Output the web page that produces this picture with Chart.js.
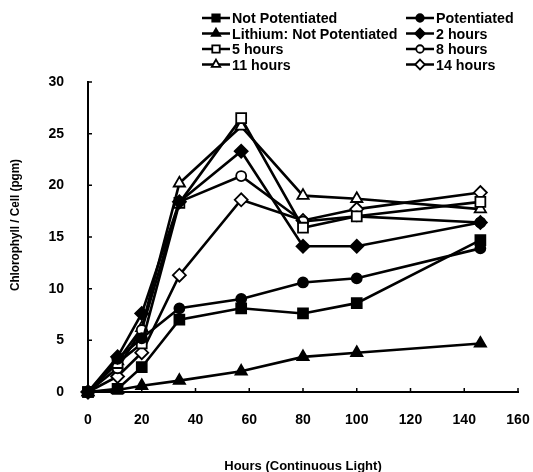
<!DOCTYPE html>
<html>
<head>
<meta charset="utf-8">
<script src="https://cdn.jsdelivr.net/npm/chart.js@4.4.1/dist/chart.umd.min.js"></script>
<style>
  html, body { margin: 0; padding: 0; background: #fff; overflow: hidden; }
  #wrap { width: 533px; height: 472px; position: relative; }
</style>
</head>
<body>
<div id="wrap"><canvas id="chart"></canvas></div>
<script>
// hours of continuous light
const hours = [0, 11, 20, 34, 57, 80, 100, 146];

const notPotentiated = [0, 0.3, 2.4, 7.0, 8.1, 7.6, 8.6, 14.7];
const potentiated = [0, 3.2, 5.2, 8.1, 9.0, 10.6, 11.0, 13.9];
const lithiumNotPotentiated = [0, 0.2, 0.6, 1.1, 2.0, 3.4, 3.8, 4.7];
const twoHours = [0, 3.4, 7.6, 18.4, 23.3, 14.1, 14.1, 16.4];
const fiveHours = [0, 2.8, 4.7, 18.3, 26.5, 15.9, 17.0, 18.4];
const eightHours = [0, 2.3, 6.0, 18.4, 20.9, 16.5, 17.0, 16.4];
const elevenHours = [0, 3.0, 6.2, 20.2, 25.7, 19.0, 18.7, 17.7];
const fourteenHours = [0, 1.5, 3.8, 11.3, 18.6, 16.6, 17.7, 19.3];

const xTicks = [0, 20, 40, 60, 80, 100, 120, 140, 160];
const yTicks = [0, 5, 10, 15, 20, 25, 30];

const FONT = '"Liberation Sans", Arial, sans-serif';

const series = [
  { label: "Not Potentiated", values: notPotentiated, style: "rect", filled: true },
  { label: "Potentiated", values: potentiated, style: "circle", filled: true },
  { label: "Lithium: Not Potentiated", values: lithiumNotPotentiated, style: "triangle", filled: true },
  { label: "2 hours", values: twoHours, style: "rectRot", filled: true },
  { label: "5 hours", values: fiveHours, style: "rect", filled: false },
  { label: "8 hours", values: eightHours, style: "circle", filled: false },
  { label: "11 hours", values: elevenHours, style: "triangle", filled: false },
  { label: "14 hours", values: fourteenHours, style: "rectRot", filled: false },
];

const markerSize = { rect: 7, circle: 5, triangle: 6.5, rectRot: 6.5 };

function drawMarker(ctx, style, filled, x, y, r) {
  ctx.beginPath();
  if (style === "rect") {
    const s = r * Math.SQRT1_2;
    ctx.rect(x - s, y - s, 2 * s, 2 * s);
  } else if (style === "circle") {
    ctx.arc(x, y, r, 0, Math.PI * 2);
  } else if (style === "triangle") {
    ctx.moveTo(x, y - r);
    ctx.lineTo(x + r * 0.866, y + r * 0.5);
    ctx.lineTo(x - r * 0.866, y + r * 0.5);
    ctx.closePath();
  } else {
    ctx.moveTo(x, y - r);
    ctx.lineTo(x + r, y);
    ctx.lineTo(x, y + r);
    ctx.lineTo(x - r, y);
    ctx.closePath();
  }
  ctx.fillStyle = filled ? "#000" : "#fff";
  ctx.fill();
  ctx.lineWidth = 1.8;
  ctx.strokeStyle = "#000";
  ctx.stroke();
}

// legend in two columns, line-marker-line like the original
const lineLegend = {
  id: "lineLegend",
  afterDraw(chart) {
    const ctx = chart.ctx;
    ctx.save();
    series.forEach((s, i) => {
      const col = i % 2;
      const row = Math.floor(i / 2);
      const x0 = col ? 406 : 202;
      const y = 18 + row * 15.5;
      ctx.strokeStyle = "#000";
      ctx.lineWidth = 2.5;
      ctx.beginPath();
      ctx.moveTo(x0, y);
      ctx.lineTo(x0 + 28, y);
      ctx.stroke();
      drawMarker(ctx, s.style, s.filled, x0 + 14, y, markerSize[s.style] * 0.75);
      // slightly condensed text
      ctx.save();
      ctx.translate(x0 + 30, y + 1);
      ctx.scale(0.95, 1);
      ctx.fillStyle = "#000";
      ctx.font = "bold 15px " + FONT;
      ctx.textBaseline = "middle";
      ctx.textAlign = "left";
      ctx.fillText(s.label, 0, 0);
      ctx.restore();
    });

    // y axis title
    ctx.translate(15, 225);
    ctx.rotate(-Math.PI / 2);
    ctx.scale(0.9, 1);
    ctx.font = "bold 13px " + FONT;
    ctx.textAlign = "center";
    ctx.textBaseline = "middle";
    ctx.fillStyle = "#000";
    ctx.fillText("Chlorophyll / Cell (pgm)", 0, 0);
    ctx.restore();
  },
};

// short tick marks pointing into the plot
const innerTicks = {
  id: "innerTicks",
  afterDraw(chart) {
    const { ctx, scales: { x, y } } = chart;
    ctx.save();
    ctx.strokeStyle = "#000";
    ctx.lineWidth = 1.5;
    ctx.beginPath();
    yTicks.forEach((v) => {
      const py = y.getPixelForValue(v);
      ctx.moveTo(x.left, py);
      ctx.lineTo(x.left + 4, py);
    });
    xTicks.forEach((v) => {
      const px = x.getPixelForValue(v);
      ctx.moveTo(px, y.bottom);
      ctx.lineTo(px, y.bottom - 4);
    });
    ctx.stroke();
    ctx.restore();
  },
};

const datasets = series.map((s) => ({
  label: s.label,
  data: hours.map((h, i) => ({ x: h, y: s.values[i] })),
  borderColor: "#000",
  borderWidth: 2.6,
  pointStyle: s.style,
  pointRadius: markerSize[s.style],
  pointBackgroundColor: s.filled ? "#000" : "#fff",
  pointBorderColor: "#000",
  pointBorderWidth: 1.8,
  showLine: true,
  clip: false,
  tension: 0,
}));

new Chart(document.getElementById("chart"), {
  type: "scatter",
  data: { datasets },
  plugins: [innerTicks, lineLegend],
  options: {
    responsive: true,
    maintainAspectRatio: false,
    animation: false,
    layout: { padding: { top: 82, right: 15, left: 0, bottom: 0 } },
    plugins: {
      legend: { display: false },
      tooltip: { enabled: false },
    },
    scales: {
      x: {
        type: "linear",
        min: 0,
        max: 160,
        afterFit: (scale) => {
          scale.height = 80;
          scale.paddingLeft = 0;
          scale.paddingRight = 0;
        },
        afterBuildTicks: (scale) => { scale.ticks = xTicks.map((v) => ({ value: v })); },
        grid: { display: false, drawTicks: false },
        border: { display: true, color: "#000", width: 2 },
        ticks: { color: "#000", padding: 20, font: { family: FONT, size: 14, weight: "bold" } },
        title: {
          display: true,
          text: "Hours (Continuous Light)",
          color: "#000",
          padding: { top: 0, bottom: -2 },
          font: { family: FONT, size: 13, weight: "bold" },
        },
      },
      y: {
        min: 0,
        max: 30,
        afterFit: (scale) => {
          scale.width = 88;
          scale.paddingTop = 0;
          scale.paddingBottom = 0;
        },
        afterBuildTicks: (scale) => { scale.ticks = yTicks.map((v) => ({ value: v })); },
        grid: { display: false, drawTicks: false },
        border: { display: true, color: "#000", width: 2 },
        ticks: { color: "#000", padding: 24, font: { family: FONT, size: 14, weight: "bold" } },
      },
    },
  },
});
</script>
</body>
</html>
